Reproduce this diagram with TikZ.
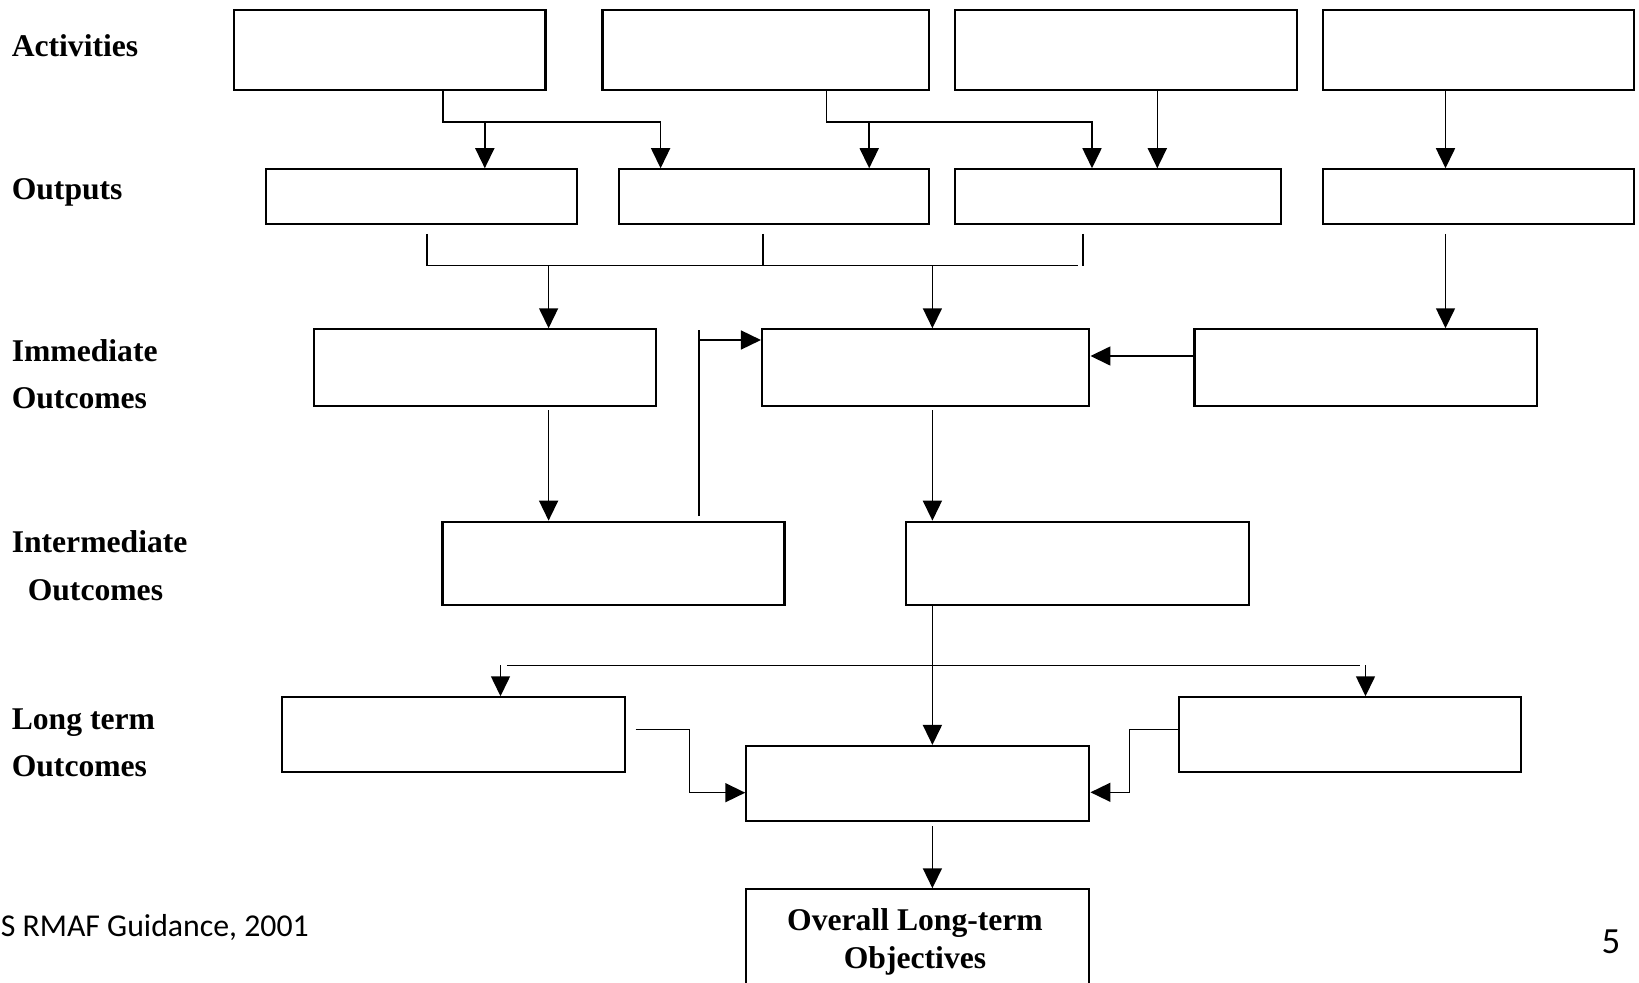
\documentclass[tikz,border=0pt]{standalone}
\usepackage{fontspec}
\setmainfont{Liberation Serif}
\newfontfamily\footfont{Carlito}
\usetikzlibrary{arrows.meta, positioning, fit, calc}
\tikzset{
  every picture/.style={line width=0.9pt},
  stage/.style={draw, line width=1.2pt, inner sep=0pt},
  rowlabel/.style={font=\fontsize{18}{22}\selectfont\bfseries, anchor=base west, inner sep=0pt},
  foot/.style={font=\footfont\fontsize{18.1}{21}\selectfont, inner sep=0pt},
  link/.style={draw, line width=0.9pt},
  arrow/.style={link, -{Triangle[length=4mm, width=3.8mm]}},
}

\begin{document}
\begin{tikzpicture}[x=0.02cm, y=-0.02cm]
  \useasboundingbox (0,0) rectangle (1639,983);
  % row labels
  \node[rowlabel] (lact) at (11,56.7) {Activities};
  \node[rowlabel] (lout) at (11,199.3) {Outputs};
  \node[rowlabel] (limm) at (11,361) {Immediate};
  \node[rowlabel] (limm2) at (11,408) {Outcomes};
  \node[rowlabel] (lint) at (11,552.7) {Intermediate};
  \node[rowlabel] (lint2) at (27,600) {Outcomes};
  \node[rowlabel] (llong) at (11,729.3) {Long term};
  \node[rowlabel] (llong2) at (11,776) {Outcomes};
  % activities
  \node[stage, fit={(234.3,10)(545.5,90)}] (act1) {};
  \node[stage, fit={(602.5,10)(929.3,90)}] (act2) {};
  \node[stage, fit={(955,10)(1297,90)}] (act3) {};
  \node[stage, fit={(1323,10)(1633.8,90)}] (act4) {};
  % outputs
  \node[stage, fit={(266.2,169.3)(577.4,224)}] (out1) {};
  \node[stage, fit={(618.7,169.3)(929.3,224)}] (out2) {};
  \node[stage, fit={(955,169.3)(1281.3,224)}] (out3) {};
  \node[stage, fit={(1323,169.3)(1633.8,224)}] (out4) {};
  % immediate outcomes
  \node[stage, fit={(313.8,329.3)(656.4,406)}] (imm1) {};
  \node[stage, fit={(762,329.3)(1089.4,406)}] (imm2) {};
  \node[stage, fit={(1194.5,329.3)(1537,406)}] (imm3) {};
  % intermediate outcomes
  \node[stage, fit={(442.5,521.7)(784.5,605)}] (int1) {};
  \node[stage, fit={(906.3,521.7)(1248.9,605)}] (int2) {};
  % long term outcomes
  \node[stage, fit={(282.4,697.3)(625,771.7)}] (long1) {};
  \node[stage, fit={(746.3,746)(1089.4,821)}] (long2) {};
  \node[stage, fit={(1178.8,697.3)(1521.4,771.7)}] (long3) {};
  % objectives
  \node[stage, fit={(746.3,889.3)(1089.4,1000)}] (obj) {};
  \node[font=\fontsize{18}{21.5}\selectfont\bfseries, align=center, inner sep=0pt] (objtxt) at (915,942) {Overall Long-term\\Objectives};
  % footer
  \node[foot, anchor=base west] (src) at (0,936.7) {S RMAF Guidance, 2001};
  \node[foot, font=\footfont\fontsize{21}{24}\selectfont, anchor=base] (pgno) at (1611,953) {5};
  % activities to outputs
  \coordinate (b1) at (443,122);
  \coordinate (b2) at (660.6,122);
  \draw[arrow] (act1.south -| b1) -- (b1) -- (b2) -- (out2.north -| b2);
  \draw[arrow] (484.8,122) -- (out1.north -| 484.8,0);
  \coordinate (b3) at (826.5,122);
  \coordinate (b4) at (1092,122);
  \draw[arrow] (act2.south -| b3) -- (b3) -- (b4) -- (out3.north -| b4);
  \draw[arrow] (869.2,122) -- (out2.north -| 869.2,0);
  \draw[arrow] (act3.south -| 1157.3,0) -- (out3.north -| 1157.3,0);
  \draw[arrow] (act4.south -| 1445.5,0) -- (out4.north -| 1445.5,0);
  % outputs to immediate
  \coordinate (m1) at (426.8,265.7);
  \coordinate (m2) at (1077.8,265.7);
  \draw[link] (426.8,234) -- (m1) -- (m2);
  \draw[link] (763,234) -- (763,265.7);
  \draw[link] (1083,234) -- (1083,265.7);
  \draw[arrow] (548.6,265.7) -- (imm1.north -| 548.6,0);
  \draw[arrow] (932.4,265.7) -- (imm2.north -| 932.4,0);
  \draw[arrow] (1445.5,234) -- (imm3.north -| 1445.5,0);
  \draw[arrow] (imm3.west |- 0,356) -- (imm2.east |- 0,356);
  % immediate to intermediate
  \draw[arrow] (548.6,410) -- (int1.north -| 548.6,0);
  \draw[arrow] (932.4,410) -- (int2.north -| 932.4,0);
  \coordinate (f1) at (698.7,516);
  \draw[link] (f1) -- (698.7,330);
  \draw[arrow] (698.7,340) -- (imm2.west |- 0,340);
  % intermediate to long term
  \draw[arrow] (int2.south -| 932.4,0) -- (long2.north -| 932.4,0);
  \draw[link] (506.8,665.7) -- (1360.3,665.7);
  \draw[arrow] (500.5,665) -- (long1.north -| 500.5,0);
  \draw[arrow] (1365.5,665) -- (long3.north -| 1365.5,0);
  \draw[arrow] (635.5,729.3) -| (689.3,792.7) -- (long2.west |- 0,792.7);
  \draw[arrow] (long3.west |- 0,729.3) -| (1129.6,792.3) -- (long2.east |- 0,792.3);
  % long term to objectives
  \draw[arrow] (932.4,826) -- (obj.north -| 932.4,0);
\end{tikzpicture}
\end{document}
